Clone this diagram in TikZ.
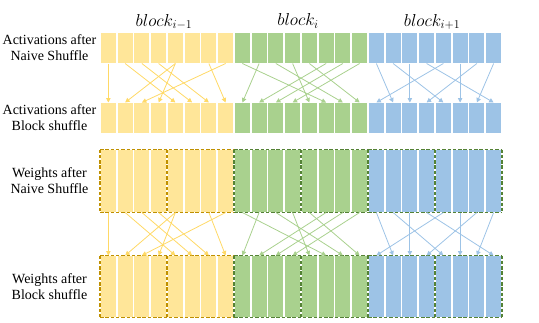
\documentclass[tikz,border=0pt]{standalone}
\usepackage{fontspec}
\setmainfont{Liberation Serif}
\usetikzlibrary{arrows.meta}
\definecolor{blk0}{HTML}{FFE699}
\definecolor{blk1}{HTML}{A9D18E}
\definecolor{blk2}{HTML}{9DC3E6}
\definecolor{arw0}{HTML}{FFD966}
\definecolor{arw1}{HTML}{A9D18E}
\definecolor{arw2}{HTML}{9DC3E6}
\definecolor{dsh0}{HTML}{BF9000}
\definecolor{dsh1}{HTML}{548235}
\definecolor{dsh2}{HTML}{548235}
\begin{document}
\begin{tikzpicture}[x=1pt, y=-1pt,
  cell/.style={draw=white, line width=1.6pt, minimum width=16.75pt,
               inner sep=0pt, outer sep=0pt},
  lbl/.style={align=center, font=\fontsize{14}{16}\selectfont},
  ttl/.style={font=\fontsize{17}{20}\selectfont},
  grp/.style={dash pattern=on 3.5pt off 1.8pt, line width=1.1pt},
  arr/.style={-{Triangle[length=4.5pt, width=4.5pt]}, line width=0.8pt}]
  \useasboundingbox (0,0) rectangle (539,322);
  \foreach \r/\cy/\ht in {A/48/31, B/118/31, C/181/63, D/286.5/62} {
    \foreach \k in {0,...,23} {
      \pgfmathtruncatemacro\b{int(\k/8)}
      \node[cell, minimum height=\ht pt, fill=blk\b] (\r\k)
        at (108.375+16.75*\k, \cy) {};
    }
  }
  \foreach \r in {C, D} {
    \foreach \b in {0,1,2} {
      \pgfmathtruncatemacro\fst{8*\b}
      \pgfmathtruncatemacro\lst{8*\b+7}
      \draw[grp, draw=dsh\b] (\r\fst.north west) -- (\r\lst.north east);
      \draw[grp, draw=dsh\b] (\r\fst.south west) -- (\r\lst.south east);
    }
    \foreach \v in {0,...,5} {
      \pgfmathtruncatemacro\k{4*\v}
      \pgfmathtruncatemacro\b{min(int(\v/2),2)}
      \draw[grp, draw=dsh\b] (\r\k.north west) -- (\r\k.south west);
    }
    \draw[grp, draw=dsh2] (\r23.north east) -- (\r23.south east);
  }
  \foreach \s/\d/\b in {0/0/0, 1/4/0, 2/5/0, 3/6/0, 4/1/0, 4/3/0, 6/7/0, 7/2/0,
                        8/13/1, 9/8/1, 10/14/1, 11/12/1, 12/15/1, 13/9/1, 14/10/1, 15/11/1,
                        16/17/2, 17/20/2, 18/18/2, 19/23/2, 20/16/2, 21/21/2, 22/19/2, 23/22/2} {
    \draw[arr, arw\b] (A\s.south) -- (B\d.north);
    \draw[arr, arw\b] (C\s.south) -- (D\d.north);
  }
  \node[ttl] (t0) at (164,22) {$block_{i-1}$};
  \node[ttl] (t1) at (298,21) {$block_{i}$};
  \node[ttl] (t2) at (432,22) {$block_{i+1}$};
  \node[lbl] (lA) at (49.5,48) {Activations after\\Naive Shuffle};
  \node[lbl] (lB) at (49.5,118) {Activations after\\Block shuffle};
  \node[lbl] (lC) at (49.5,181) {Weights after\\Naive Shuffle};
  \node[lbl] (lD) at (49.5,287) {Weights after\\Block shuffle};
\end{tikzpicture}
\end{document}
